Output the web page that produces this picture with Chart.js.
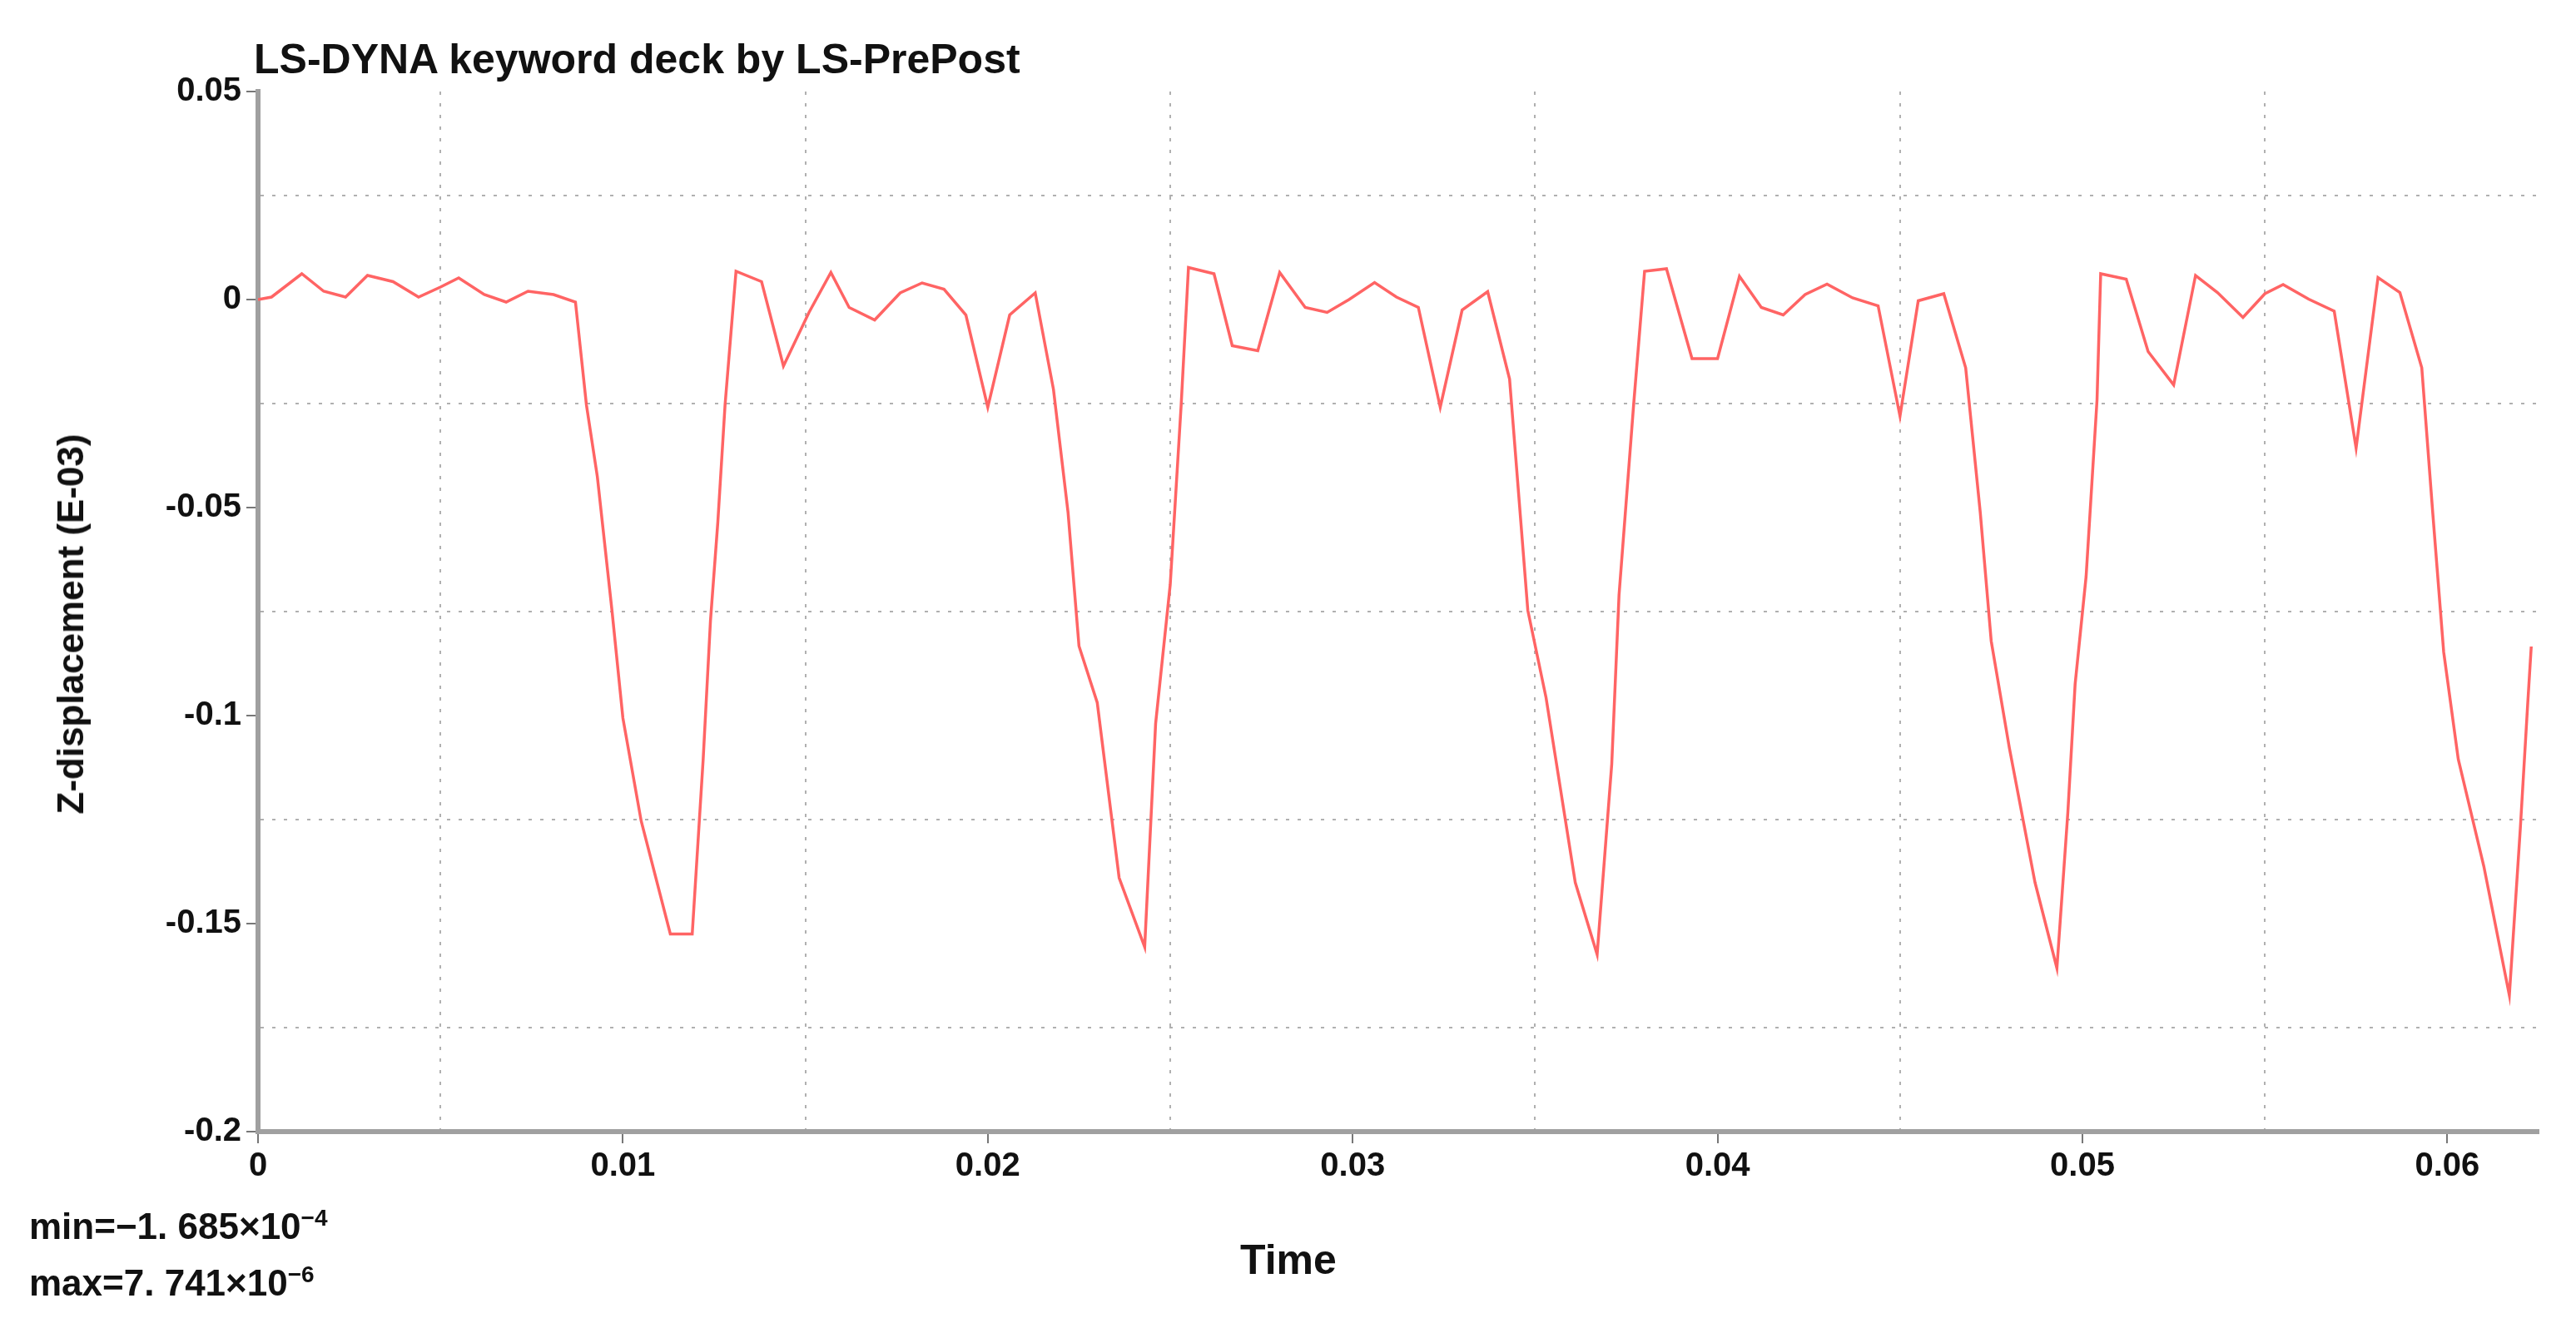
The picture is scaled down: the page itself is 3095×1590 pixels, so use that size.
<!DOCTYPE html>
<html><head><meta charset="utf-8">
<script src="https://cdn.jsdelivr.net/npm/chart.js@4/dist/chart.umd.min.js"></script>
<style>
html,body{margin:0;padding:0;background:#fff;}
#wrap{position:relative;width:3095px;height:1590px;font-family:"Liberation Sans",Arial,sans-serif;}
canvas{position:absolute;left:0;top:0;}
.t{position:absolute;font-weight:bold;color:#111;white-space:nowrap;}
</style></head><body>
<div id="wrap">
<canvas id="c" width="3095" height="1590"></canvas>
<div class="t" style="left:305px;top:42px;font-size:50px;">LS-DYNA keyword deck by LS-PrePost</div>
<div class="t" style="left:1490px;top:1485px;font-size:50px;">Time</div>
<div class="t" style="left:35px;top:1448px;font-size:44px;">min=−1. 685×10<sup style="font-size:28px">−4</sup></div>
<div class="t" style="left:35px;top:1516px;font-size:44px;">max=7. 741×10<sup style="font-size:28px">−6</sup></div>
<div class="t" style="left:85px;top:750px;font-size:44px;transform:translate(-50%,-50%) rotate(-90deg);">Z-displacement (E-03)</div>
</div>
<script>
const times = [0,0.00037,0.0012,0.0018,0.0024,0.003,0.0037,0.0044,0.005,0.0055,0.0062,0.0068,0.0074,0.0081,0.0087,0.009,0.0093,0.0097,0.01,0.0105,0.0113,0.0119,0.0122,0.0124,0.0126,0.0128,0.0131,0.0138,0.0144,0.0151,0.0157,0.0162,0.0169,0.0176,0.0182,0.0188,0.0194,0.02,0.0206,0.0213,0.0218,0.0222,0.0225,0.023,0.0236,0.0243,0.0246,0.025,0.0253,0.0255,0.0262,0.0267,0.0274,0.028,0.0287,0.0293,0.0299,0.0306,0.0312,0.0318,0.0324,0.033,0.0337,0.0343,0.0348,0.0353,0.0361,0.0367,0.0371,0.0373,0.0377,0.038,0.0386,0.0393,0.04,0.0406,0.0412,0.0418,0.0424,0.043,0.0437,0.0444,0.045,0.0455,0.0462,0.0468,0.0472,0.0475,0.048,0.0487,0.0493,0.0496,0.0498,0.0501,0.0504,0.0505,0.0512,0.0518,0.0525,0.0531,0.0537,0.0544,0.055,0.0555,0.0562,0.0569,0.0575,0.0581,0.0587,0.0593,0.0596,0.0599,0.0603,0.061,0.0617,0.062,0.0622,0.0623];
const zdisp = [0,0.0006,0.0062,0.002,0.0006,0.0058,0.0043,0.0006,0.003,0.0052,0.0012,-0.0006,0.002,0.0012,-0.0006,-0.0253,-0.0426,-0.0747,-0.1006,-0.1253,-0.1525,-0.1525,-0.1105,-0.0772,-0.0537,-0.0253,0.0068,0.0043,-0.016,-0.0031,0.0065,-0.0019,-0.0049,0.0016,0.004,0.0025,-0.0037,-0.0259,-0.0037,0.0016,-0.0216,-0.0512,-0.0833,-0.0969,-0.139,-0.1556,-0.1019,-0.0685,-0.0253,0.0077,0.0062,-0.0111,-0.0123,0.0065,-0.0019,-0.0031,0,0.0041,0.0006,-0.0019,-0.0259,-0.0025,0.0019,-0.0191,-0.0747,-0.0957,-0.1401,-0.1574,-0.1117,-0.071,-0.0253,0.0068,0.0074,-0.0142,-0.0142,0.0056,-0.0019,-0.0037,0.0012,0.0037,0.0004,-0.0015,-0.028,-0.0003,0.0014,-0.0164,-0.0512,-0.0821,-0.1079,-0.1401,-0.1607,-0.1233,-0.0924,-0.0666,-0.0241,0.0062,0.0049,-0.0125,-0.0205,0.0058,0.0017,-0.0043,0.0014,0.0036,0.0001,-0.0028,-0.0357,0.0053,0.0017,-0.0164,-0.0512,-0.0847,-0.1105,-0.1362,-0.1672,-0.1272,-0.0976,-0.0834];
const xTickLabels = ["0","0.01","0.02","0.03","0.04","0.05","0.06"];
const yTickLabels = ["0.05","0","-0.05","-0.1","-0.15","-0.2"];

const pts = times.map((t,i)=>({x:t,y:zdisp[i]}));
const isMajor = (v,step)=>Math.abs(v/step-Math.round(v/step))<1e-6;
const tickFont = {family:'"Liberation Sans", Arial, sans-serif',size:40,weight:'bold'};
const mkTicks = (from,to,step)=>{const a=[];for(let i=0;from+i*step<=to+1e-9;i++)a.push({value:+(from+i*step).toFixed(6)});return a;};
new Chart(document.getElementById('c'),{
  type:'line',
  data:{datasets:[{data:pts,borderColor:'#ff6464',borderWidth:3.5,pointRadius:0,tension:0,fill:false}]},
  options:{
    responsive:false,animation:false,
    layout:{padding:{top:110,right:45,left:0,bottom:0}},
    plugins:{legend:{display:false},tooltip:{enabled:false},title:{display:false}},
    scales:{
      x:{type:'linear',min:0,max:0.0625,
        afterFit:s=>{s.height=230;},
        afterBuildTicks:s=>{s.ticks=mkTicks(0,0.06,0.005);},
        border:{color:'#a0a0a0',width:6,dash:[4,10]},
        ticks:{autoSkip:false,maxRotation:0,color:'#111',font:tickFont,padding:4,
          callback:v=>{ if(!isMajor(v,0.01)) return ''; const i=Math.round(v/0.01); return xTickLabels[i]??''; }},
        grid:{drawOnChartArea:true,tickLength:14,lineWidth:2,
          color:c=>isMajor(c.tick.value,0.01)?'rgba(0,0,0,0)':'#b0b0b0',
          tickColor:c=>isMajor(c.tick.value,0.01)?'#777':'rgba(0,0,0,0)'}
      },
      y:{type:'linear',min:-0.2,max:0.05,
        afterFit:s=>{s.width=310;},
        afterBuildTicks:s=>{s.ticks=mkTicks(-0.2,0.05,0.025);},
        border:{color:'#a0a0a0',width:6,dash:[4,10]},
        ticks:{autoSkip:false,color:'#111',font:tickFont,padding:6,
          callback:v=>{ if(!isMajor(v,0.05)) return ''; const i=Math.round((0.05-v)/0.05); return yTickLabels[i]??''; }},
        grid:{drawOnChartArea:true,tickLength:14,lineWidth:2,
          color:c=>isMajor(c.tick.value,0.05)?'rgba(0,0,0,0)':'#b0b0b0',
          tickColor:c=>isMajor(c.tick.value,0.05)?'#777':'rgba(0,0,0,0)'}
      }
    }
  }
});
</script>
</body></html>
